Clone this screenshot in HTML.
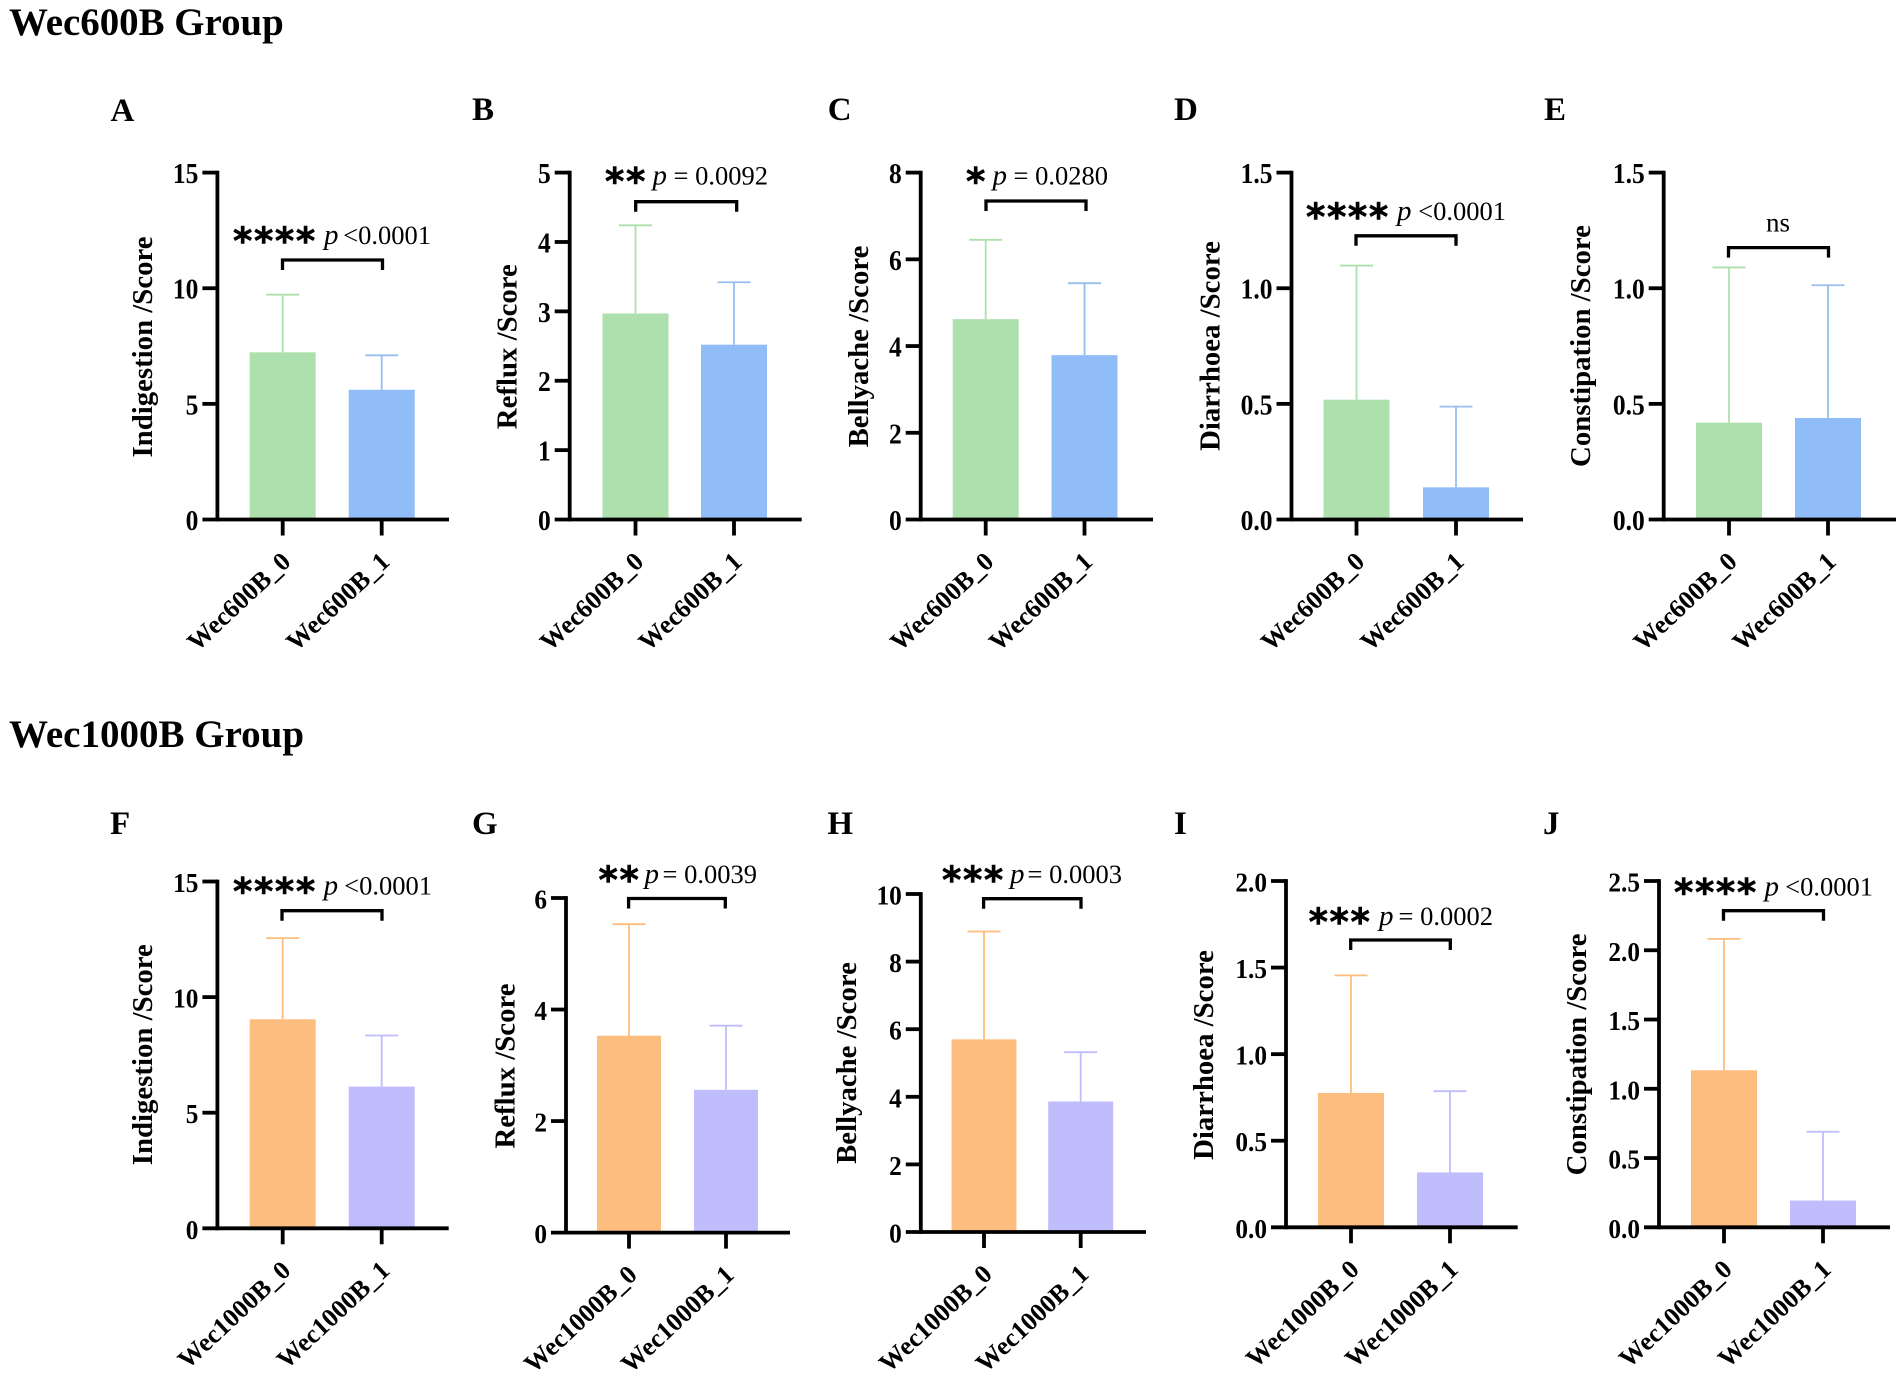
<!DOCTYPE html>
<html lang="en">
<head>
<meta charset="utf-8">
<title>Wec600B and Wec1000B Group Scores</title>
<style>
html,body{margin:0;padding:0;background:#fff;}
body{width:1902px;height:1373px;overflow:hidden;}
svg{display:block;}
text{font-family:"Liberation Serif","Times New Roman",serif;fill:#000;}
</style>
</head>
<body>
<svg id="figure" xmlns="http://www.w3.org/2000/svg" width="1902" height="1373" viewBox="0 0 1902 1373">
  <rect x="0" y="0" width="1902" height="1373" fill="#ffffff"/>
  <text x="9" y="35" font-size="38.9" font-weight="700">Wec600B Group</text>
  <text x="9" y="747" font-size="39" font-weight="700">Wec1000B Group</text>
</svg>
<script>
// ---- chart data ----
const panelIds = ['A','B','C','D','E','F','G','H','I','J'];
const yTitles = ['Indigestion /Score','Reflux /Score','Bellyache /Score','Diarrhoea /Score','Constipation /Score',
                 'Indigestion /Score','Reflux /Score','Bellyache /Score','Diarrhoea /Score','Constipation /Score'];
const categories600 = ['Wec600B_0','Wec600B_1'];
const categories1000 = ['Wec1000B_0','Wec1000B_1'];
const yTickLabels = [
  ['0','5','10','15'],['0','1','2','3','4','5'],['0','2','4','6','8'],['0.0','0.5','1.0','1.5'],['0.0','0.5','1.0','1.5'],
  ['0','5','10','15'],['0','2','4','6'],['0','2','4','6','8','10'],['0.0','0.5','1.0','1.5','2.0'],['0.0','0.5','1.0','1.5','2.0','2.5']
];
const meanGroup0 = [7.23,2.97,4.62,0.518,0.419,9.04,3.53,5.70,0.776,1.134];
const meanGroup1 = [5.61,2.52,3.79,0.139,0.439,6.13,2.56,3.86,0.317,0.193];
const errorTopGroup0 = [9.72,4.24,6.45,1.098,1.09,12.55,5.53,8.89,1.455,2.082];
const errorTopGroup1 = [7.10,3.42,5.45,0.488,1.013,8.34,3.71,5.32,0.786,0.69];
const significanceStars = ['****','**','*','****','','****','**','***','***','****'];
const pValueLabels = ['<0.0001','= 0.0092','= 0.0280','<0.0001','ns','<0.0001','= 0.0039','= 0.0003','= 0.0002','<0.0001'];

// ---- frame layout per panel (not data) ----
const frames = [
 {axisX:217.4,axisEnd:449,yBase:519.5,yTop:172.6,x0:282.7,x1:381.7,barW:66,labelX:110.5,labelY:121,titleX:152,titleY:347,brX0:282.5,brX1:382.5,brY:260,annY:236,starX:234,pX:324,pEnd:431},
 {axisX:569.7,axisEnd:801.7,yBase:519.5,yTop:172.6,x0:635.5,x1:734,barW:66,labelX:472,labelY:120,titleX:516.7,titleY:346.7,brX0:635.7,brX1:736.7,brY:201.7,annY:176.5,starX:606,pX:652.5,pEnd:768},
 {axisX:920.7,axisEnd:1153,yBase:519.5,yTop:172.6,x0:985.7,x1:1084.5,barW:66,labelX:827.7,labelY:120,titleX:868,titleY:346.5,brX0:986,brX1:1086,brY:201,annY:176.7,starX:967,pX:992.5,pEnd:1108},
 {axisX:1291.5,axisEnd:1523,yBase:519.5,yTop:172.6,x0:1356.5,x1:1456,barW:66,labelX:1174,labelY:120,titleX:1219.5,titleY:346,brX0:1356,brX1:1456,brY:235.8,annY:212,starX:1307,pX:1397,pEnd:1506},
 {axisX:1663.7,axisEnd:1896,yBase:519.5,yTop:172.6,x0:1729,x1:1828,barW:66,labelX:1544,labelY:120,titleX:1590,titleY:346,brX0:1728.5,brX1:1828.5,brY:247.6,annY:224.7,starX:0,pX:1778,pEnd:0},
 {axisX:217.4,axisEnd:448.7,yBase:1228.3,yTop:881.5,x0:282.7,x1:381.7,barW:66,labelX:110,labelY:834,titleX:151.8,titleY:1054.7,brX0:282,brX1:382,brY:910.7,annY:886.7,starX:234,pX:323.6,pEnd:432},
 {axisX:566,axisEnd:790,yBase:1232.6,yTop:898,x0:629,x1:726,barW:64,labelX:472,labelY:834,titleX:514.7,titleY:1066,brX0:628.6,brX1:725.3,brY:898.5,annY:875,starX:599.5,pX:644.5,pEnd:757},
 {axisX:920.8,axisEnd:1146,yBase:1232,yTop:894,x0:984,x1:1080.7,barW:65,labelX:827.4,labelY:834,titleX:855.8,titleY:1063,brX0:983.6,brX1:1081,brY:898.7,annY:875,starX:943,pX:1010,pEnd:1122},
 {axisX:1286,axisEnd:1517.7,yBase:1227.3,yTop:881,x0:1351,x1:1450,barW:66,labelX:1174,labelY:834,titleX:1212.8,titleY:1055,brX0:1350.7,brX1:1450.3,brY:940,annY:917,starX:1309.6,pX:1379,pEnd:1493},
 {axisX:1659,axisEnd:1890,yBase:1227.3,yTop:881,x0:1724,x1:1823,barW:66,labelX:1543,labelY:834,titleX:1586,titleY:1054.4,brX0:1723.5,brX1:1823.5,brY:910.7,annY:887.7,starX:1675,pX:1764.5,pEnd:1873}
];
const colorsGroup0 = ['#aee0ae','#fdbd7e'];
const colorsGroup1 = ['#90bdf8','#bfbdfc'];
const errorColorsGroup1 = ['#96bfee','#bfbdfc'];

const SVG_NS = 'http://www.w3.org/2000/svg';
const root = document.getElementById('figure');

function make(parent, tag, attrs, content) {
  const node = document.createElementNS(SVG_NS, tag);
  Object.keys(attrs).forEach(function (k) { node.setAttribute(k, attrs[k]); });
  if (content !== undefined) node.textContent = content;
  parent.appendChild(node);
  return node;
}

panelIds.forEach(function (id, i) {
  const f = frames[i];
  const row = i < 5 ? 0 : 1;
  const tickLabels = yTickLabels[i];
  const yMax = parseFloat(tickLabels[tickLabels.length - 1]);
  const yScale = function (v) { return f.yBase - (v / yMax) * (f.yBase - f.yTop); };
  const xScale = function (k) { return k === 0 ? f.x0 : f.x1; };
  const cats = row === 0 ? categories600 : categories1000;
  const lc = id.toLowerCase();

  const g = make(root, 'g', {});
  
  

  const panelLabel = make(g, 'text', {x: f.labelX, y: f.labelY, 'font-size': 33, 'font-weight': 700}, id);
  
  

  // bars and error bars
  [meanGroup0[i], meanGroup1[i]].forEach(function (mean, k) {
    const top = k === 0 ? errorTopGroup0[i] : errorTopGroup1[i];
    const cx = xScale(k);
    const fill = k === 0 ? colorsGroup0[row] : colorsGroup1[row];
    const errColor = k === 0 ? colorsGroup0[row] : errorColorsGroup1[row];

    const errLine = make(g, 'line', {x1: cx, x2: cx, y1: yScale(mean), y2: yScale(top), stroke: errColor, 'stroke-width': 1.8});
    
    

    const errCap = make(g, 'line', {x1: cx - 16.5, x2: cx + 16.5, y1: yScale(top), y2: yScale(top), stroke: errColor, 'stroke-width': 1.8});
    
    

    const bar = make(g, 'rect', {x: cx - f.barW / 2, y: yScale(mean), width: f.barW, height: yScale(0) - yScale(mean), fill: fill});
    
    
  });

  // axes
  const yAxis = make(g, 'line', {x1: f.axisX, x2: f.axisX, y1: f.yTop - 1.9, y2: f.yBase + 1.9, stroke: '#000', 'stroke-width': 3.8});
  
  

  const xAxis = make(g, 'line', {x1: f.axisX - 15, x2: f.axisEnd, y1: f.yBase, y2: f.yBase, stroke: '#000', 'stroke-width': 3.8});
  
  

  tickLabels.forEach(function (label) {
    const v = parseFloat(label);
    const ty = yScale(v);
    if (v !== 0) {
      const tick = make(g, 'line', {x1: f.axisX - 15, x2: f.axisX, y1: ty, y2: ty, stroke: '#000', 'stroke-width': 3.8});
      
      
    }
    const sx = row === 0 ? 0.88 : 0.92;
    const fs = row === 0 ? 29 : 27.5;
    const lbl = make(g, 'text', {
      transform: 'translate(' + (f.axisX - 19) + ',' + (ty + 10.5) + ') scale(' + sx + ',1)',
      'text-anchor': 'end', 'font-size': fs, 'font-weight': 700
    }, label);
    
    
  });

  cats.forEach(function (cat, k) {
    const cx = xScale(k);
    const tick = make(g, 'line', {x1: cx, x2: cx, y1: f.yBase, y2: f.yBase + 16, stroke: '#000', 'stroke-width': 3.8});
    
    

    const lx = cx + 9.5;
    const ly = f.yBase + 44;
    const lbl = make(g, 'text', {
      transform: 'translate(' + lx + ',' + ly + ') rotate(-43)',
      'text-anchor': 'end', 'font-size': 26, 'font-weight': 700
    }, cat);
    
    
  });

  const yTitle = make(g, 'text', {
    transform: 'translate(' + f.titleX + ',' + f.titleY + ') rotate(-90)',
    'text-anchor': 'middle', 'font-size': 28.8, 'font-weight': 700
  }, yTitles[i]);
  
  

  // significance bracket
  const bracket = make(g, 'path', {
    d: 'M' + f.brX0 + ' ' + (f.brY + 10) + 'V' + f.brY + 'H' + f.brX1 + 'V' + (f.brY + 10),
    fill: 'none', stroke: '#000', 'stroke-width': 3.3
  });
  
  

  const stars = significanceStars[i];
  const pLabel = pValueLabels[i];
  if (stars) {
    const starText = make(g, 'text', {
      x: f.starX - 1, y: f.annY + 18, 'font-size': 37, 'font-weight': 700, stroke: '#000', 'stroke-width': 0.6,
      style: 'font-family:"DejaVu Sans",sans-serif;letter-spacing:1.6px'
    }, stars);
    
    

    const pItalic = make(g, 'text', {x: f.pX, y: f.annY + 8, 'font-size': 29, 'font-style': 'italic'}, 'p');
    
    

    const pValue = make(g, 'text', {x: f.pEnd, y: f.annY + 8, 'font-size': 26.5, 'text-anchor': 'end'}, pLabel);
    
    
  } else {
    const ns = make(g, 'text', {x: f.pX, y: f.annY + 7, 'font-size': 27, 'text-anchor': 'middle'}, pLabel);
    
    
  }
});
</script>
</body>
</html>
